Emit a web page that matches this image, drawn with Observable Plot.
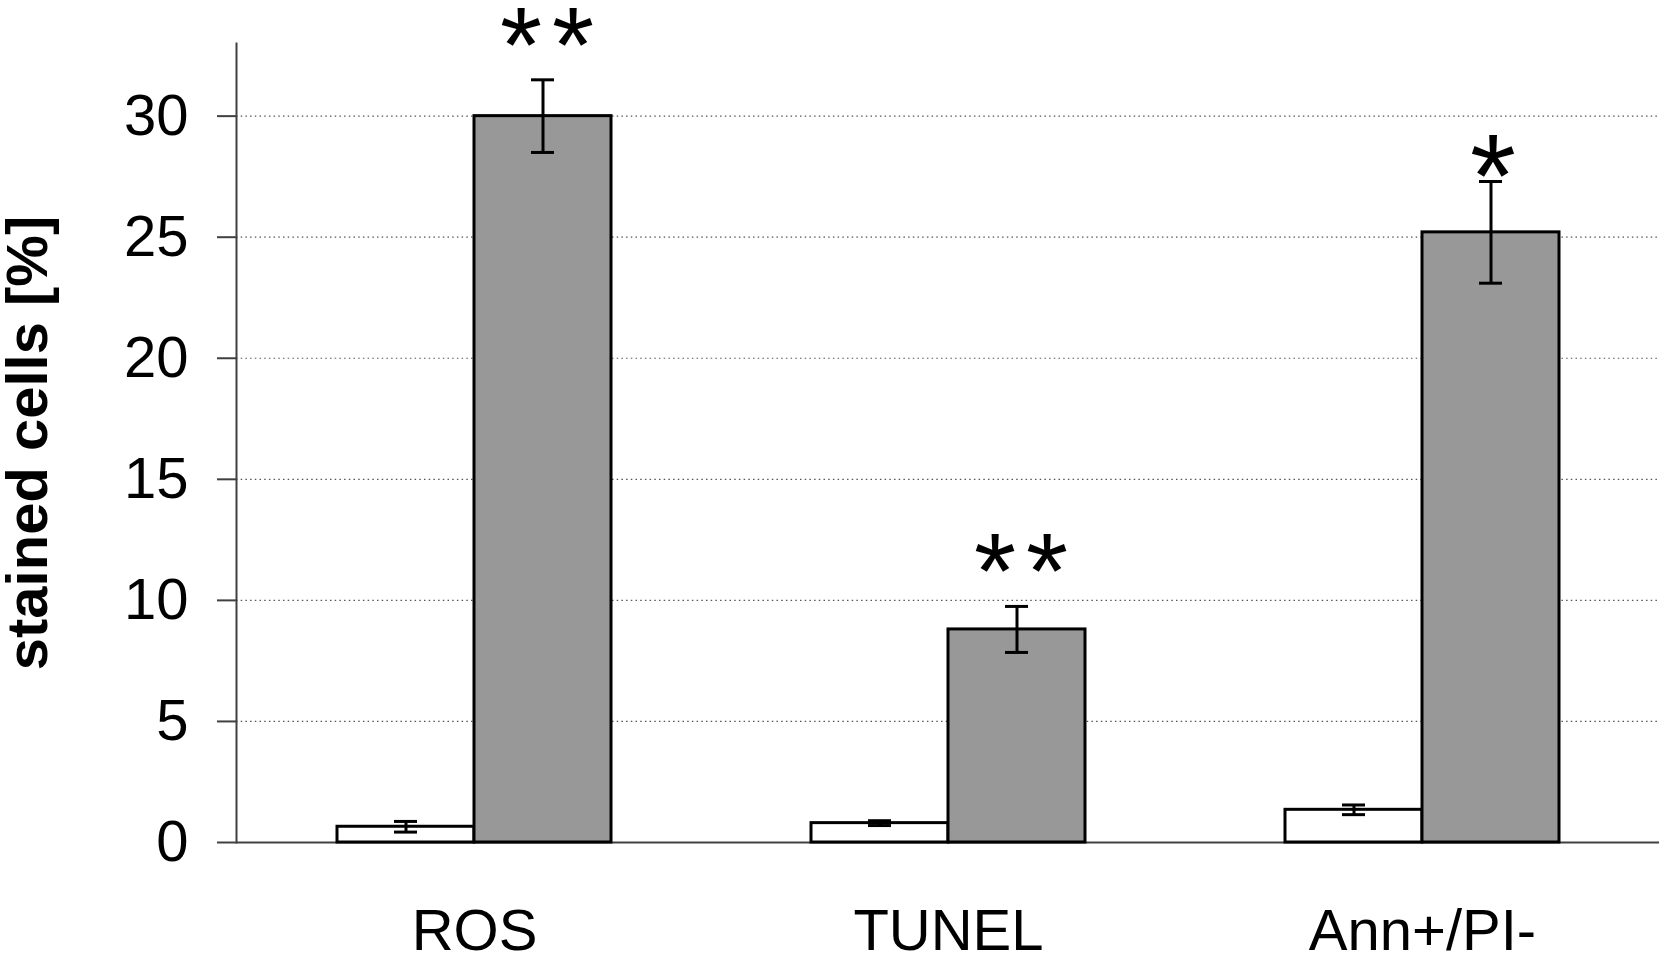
<!DOCTYPE html>
<html><head><meta charset="utf-8">
<script src="https://cdn.jsdelivr.net/npm/d3@7"></script>
<script src="https://cdn.jsdelivr.net/npm/@observablehq/plot@0.6"></script>
<style>html,body{margin:0;padding:0;background:#fff;}</style>
</head><body><div id="chart"></div>
<script>
const categories = ["ROS", "TUNEL", "Ann+/PI-"];
const controlMean = [0.65, 0.8, 1.35];
const controlErr = [0.22, 0.1, 0.2];
const treatedMean = [30.0, 8.8, 25.2];
const treatedErr = [1.5, 0.95, 2.1];
const significance = ["**", "**", "*"];
const yTicks = [0, 5, 10, 15, 20, 25, 30];
const yDomain = [0, 33];
const yLabel = "stained cells [%]";

const control = categories.map((c, i) => ({category: c, mean: controlMean[i], err: controlErr[i]}));
const treated = categories.map((c, i) => ({category: c, mean: treatedMean[i], err: treatedErr[i], sig: significance[i]}));

const layout = {
  width: 1660, height: 953,
  marginLeft: 236, marginRight: 1, marginTop: 43, marginBottom: 111,
  x: {domain: categories, paddingInner: 0.422, paddingOuter: 0.212},
  y: {domain: yDomain}
};
const probe = Plot.plot({...layout, axis: null, marks: [Plot.barY(control, {x: "category", y: "mean"})]});
const bw = probe.scale("x").bandwidth;
const half = bw / 2, quarter = bw / 4, capHalf = 11.5;

const font = "'Liberation Sans', Arial, Helvetica, sans-serif";
const axisColor = "#404040";

function errorMarks(data, side) {
  const dx = side * quarter;
  const inL = side < 0 ? quarter - capHalf : 3 * quarter - capHalf;
  const inR = side < 0 ? 3 * quarter - capHalf : quarter - capHalf;
  return [
    Plot.ruleX(data, {x: "category", y1: d => d.mean - d.err, y2: d => d.mean + d.err, dx, stroke: "black", strokeWidth: 3}),
    Plot.tickY(data, {x: "category", y: d => d.mean + d.err, insetLeft: inL, insetRight: inR, stroke: "black", strokeWidth: 3}),
    Plot.tickY(data, {x: "category", y: d => d.mean - d.err, insetLeft: inL, insetRight: inR, stroke: "black", strokeWidth: 3})
  ];
}

const chart = Plot.plot({
  ...layout,
  style: {fontFamily: font, background: "white", color: "black"},
  marks: [
    Plot.ruleY(yTicks.filter(d => d > 0), {stroke: "#555", strokeWidth: 1.2, strokeDasharray: "1.5,3.2"}),
    Plot.ruleY([0], {stroke: axisColor, strokeWidth: 2}),
    Plot.frame({anchor: "left", stroke: axisColor, strokeWidth: 2}),
    Plot.barY(control, {x: "category", y: "mean", fill: "white", stroke: "black", strokeWidth: 3, insetLeft: 0, insetRight: half}),
    Plot.barY(treated, {x: "category", y: "mean", fill: "#989898", stroke: "black", strokeWidth: 3, insetLeft: half, insetRight: 0}),
    ...errorMarks(control, -1),
    ...errorMarks(treated, 1),
    Plot.text(treated.filter(d => d.sig === "**"), {x: "category", y: d => d.mean + d.err, text: "sig", dx: quarter + 9, dy: 2, lineAnchor: "bottom", fontSize: 108, fill: "black"}),
    Plot.text(treated.filter(d => d.sig === "*"), {x: "category", y: d => d.mean + d.err, text: "sig", dx: quarter + 2, dy: 35, lineAnchor: "bottom", fontSize: 118, fill: "black"}),
    Plot.axisY({ticks: yTicks, tickSize: 19, tickPadding: 29, fontSize: 58, stroke: axisColor, strokeWidth: 2, fill: "black", label: null}),
    Plot.axisY({ticks: [], label: yLabel, labelAnchor: "center", labelOffset: 231, labelArrow: "none", fontSize: 58, fontWeight: "bold", fill: "black"}),
    Plot.axisX({tickSize: 0, tickPadding: 66, fontSize: 58, fill: "black", label: null})
  ]
});
d3.select(chart).selectAll("text")
  .filter(function () { return this.textContent === "**"; })
  .attr("letter-spacing", "10px");
document.getElementById("chart").appendChild(chart);
</script>
</body></html>
